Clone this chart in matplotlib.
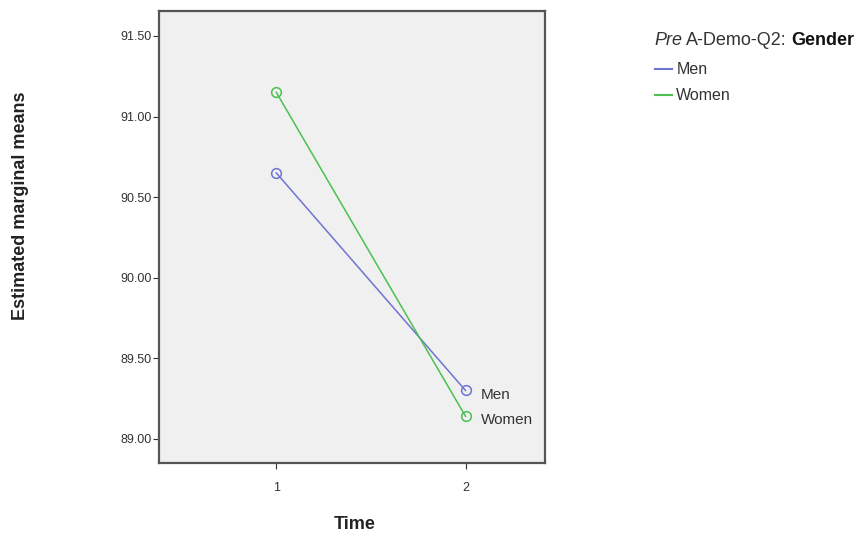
"""Profile plot: estimated marginal means over time by gender."""
import matplotlib.pyplot as plt
from matplotlib.lines import Line2D

plt.rcParams["font.family"] = ["Liberation Sans", "DejaVu Sans"]

time_points = [1, 2]
men_means = [90.65, 89.30]
women_means = [91.15, 89.14]
series_names = ["Men", "Women"]
y_ticks = [89.00, 89.50, 90.00, 90.50, 91.00, 91.50]

MEN_COLOR = "#6f74d2"
WOMEN_COLOR = "#4cc051"

fig = plt.figure(figsize=(8.66, 5.37), dpi=100)
ax = fig.add_axes([0.1836, 0.1378, 0.4457, 0.8417])
ax.set_facecolor("#f0f0f0")

for vals, color, name in ((men_means, MEN_COLOR, "Men"), (women_means, WOMEN_COLOR, "Women")):
    ax.plot(time_points, vals, color=color, lw=1.1, marker="o", ms=7,
            mfc="none", mec=color, mew=1.1)
    ax.annotate(name, (time_points[-1], vals[-1]), xytext=(11, -3),
                textcoords="offset points", va="center", ha="left",
                fontsize=11, color="#333333")

ax.set_xlim(0.38, 2.42)
ax.set_ylim(88.85, 91.655)
ax.set_xticks(time_points)
ax.set_xticklabels([str(t) for t in time_points])
ax.set_yticks(y_ticks)
ax.set_yticklabels([f"{v:.2f}" for v in y_ticks])
ax.tick_params(labelsize=9, colors="#333333", length=4, width=0.8, pad=1.5)
ax.tick_params(axis="x", pad=10)
for side in ax.spines.values():
    side.set_color("#555555")
    side.set_linewidth(1.6)

fig.text(0.024, 0.616, "Estimated marginal means", rotation=90, ha="center", va="center",
         fontsize=13, fontweight="bold", color="#222222")
fig.text(0.409, 0.008, "Time", ha="center", va="bottom",
         fontsize=13, fontweight="bold", color="#222222")

# legend header with mixed styles
t1 = fig.text(0.756, 0.925, "Pre", fontsize=13, style="italic", color="#333333", va="center")
fig.canvas.draw()
r = fig.canvas.get_renderer()
x = t1.get_window_extent(r).x1 / fig.bbox.width + 0.004
t2 = fig.text(x, 0.925, "A-Demo-Q2:", fontsize=13, color="#333333", va="center")
x = t2.get_window_extent(r).x1 / fig.bbox.width + 0.005
fig.text(x, 0.925, "Gender", fontsize=13, fontweight="bold", color="#111111", va="center")

for i, (name, color) in enumerate(zip(series_names, (MEN_COLOR, WOMEN_COLOR))):
    yy = 0.871 - i * 0.048
    fig.add_artist(Line2D([0.756, 0.776], [yy, yy], color=color, lw=1.5))
    fig.text(0.781, yy, name, fontsize=11.5, color="#333333", va="center")

fig.savefig("out.png", dpi=100)
